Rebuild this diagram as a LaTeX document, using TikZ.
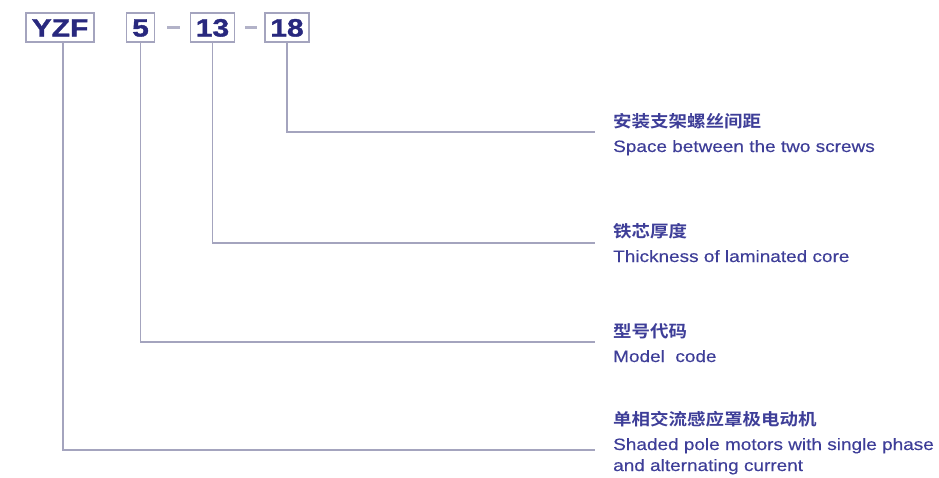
\documentclass[tikz,border=0pt]{standalone}
\usepackage{fontspec}
\setmainfont{Liberation Sans}[FakeStretch=1.15,FakeBold=0.35]
\newfontfamily\numfont{Liberation Sans Bold}[FakeStretch=1.2,FakeBold=1.4]
\newfontfamily\cjk{Noto Sans CJK SC Bold}[FakeStretch=1.12]
\usepackage{xcolor}
\definecolor{ink}{HTML}{3E3E98}
\definecolor{deepink}{HTML}{28287E}
\definecolor{rule}{HTML}{A4A4BE}

\begin{document}
\begin{tikzpicture}[x=1pt,y=-1pt,
 numbox/.style={draw=rule,line width=1.4pt,text=deepink,inner xsep=5.5pt,inner ysep=5.5pt,
   text height=18pt,text depth=0pt,font=\numfont\fontsize{25}{26}\selectfont},
 cnlabel/.style={anchor=base west,inner sep=0pt,text=ink,font=\cjk\fontsize{16.5}{18}\selectfont},
 enlabel/.style={anchor=base west,inner sep=0pt,text=ink,font=\fontsize{16.5}{20}\selectfont},
 lead/.style={rule,line width=1.3pt},
 sep/.style={rule!85,line width=2.6pt}]
 \useasboundingbox (0,0) rectangle (939,477);
 % code boxes
 \node[numbox] (yzf) at (60,27.5) {YZF};
 \node[numbox] (n5) at (140.5,27.5) {5};
 \node[numbox] (n13) at (212.5,27.5) {13};
 \node[numbox] (n18) at (287,27.5) {18};
 \draw[sep] ([xshift=12pt]n5.east) -- ([xshift=25pt]n5.east);
 \draw[sep] ([xshift=10pt]n13.east) -- ([xshift=22pt]n13.east);
 % labels
 \node[cnlabel] (cn18) at (613,127) {安装支架螺丝间距};
 \node[enlabel] (en18) at (613,152) {Space between the two screws};
 \node[cnlabel] (cn13) at (613,237) {铁芯厚度};
 \node[enlabel] (en13) at (613,262) {Thickness of laminated core};
 \node[cnlabel] (cn5) at (613,337) {型号代码};
 \node[enlabel] (en5) at (613,362) {Model\ \ code};
 \node[cnlabel] (cnyzf) at (613,425) {单相交流感应罩极电动机};
 \node[enlabel] (enyzf) at (613,450) {Shaded pole motors with single phase};
 \node[enlabel] (enyzfb) at (613,471) {and alternating current};
 % leaders
 \coordinate (e18) at (595,132);
 \coordinate (e13) at (595,243);
 \coordinate (e5) at (595,342);
 \coordinate (eyzf) at (595,450);
 \draw[lead] ([xshift=3pt]yzf.south) |- (eyzf);
 \draw[lead] (n5.south) |- (e5);
 \draw[lead] (n13.south) |- (e13);
 \draw[lead] (n18.south) |- (e18);
\end{tikzpicture}
\end{document}
